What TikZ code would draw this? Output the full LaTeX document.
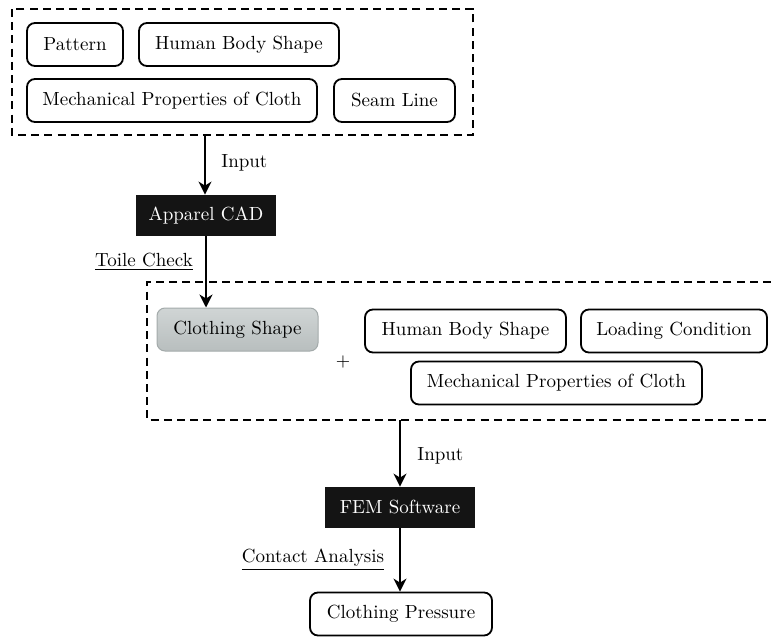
\documentclass[tikz,border=0pt]{standalone}
\usetikzlibrary{arrows.meta}
\definecolor{csTop}{HTML}{D0D5D5}
\definecolor{csBot}{HTML}{B8BEBE}
\definecolor{csEdge}{HTML}{A3AAAA}
\begin{document}
\begin{tikzpicture}[x=0.5pt,y=-0.5pt,
  every node/.style={font=\fontsize{9.5}{12}\selectfont, inner sep=0pt},
  rbox/.style={draw, rounded corners=4pt, line width=0.9pt, minimum height=21.5pt},
  blackbox/.style={fill=black!92, text=white, minimum height=20.5pt},
  grayboxst/.style={draw=csEdge, rounded corners=4pt, line width=0.5pt, minimum height=21.5pt, top color=csTop, bottom color=csBot},
  dashbox/.style={line width=0.9pt, dash pattern=on 4pt off 2.6pt},
  flow/.style={line width=0.9pt, -{Stealth[length=6.5pt,width=6.5pt,inset=2pt]}},
  lbl/.style={font=\fontsize{9.5}{12}\selectfont}
]
\useasboundingbox (0,0) rectangle (771,637);

% top group
\node[rbox, minimum width=48pt] (pat) at (75,44.5) {Pattern};
\node[rbox, minimum width=100pt] (hbs1) at (239,44.5) {Human Body Shape};
\node[rbox, minimum width=145pt] (mech1) at (172,100.5) {Mechanical Properties of Cloth};
\node[rbox, minimum width=60.5pt] (seam) at (394.5,100.5) {Seam Line};
\draw[dashbox] (12,9) rectangle (473,135);
\coordinate (g1b) at (205,135);

% apparel CAD
\node[blackbox, minimum width=70pt] (cad) at (206,215.5) {Apparel CAD};
\node[lbl, anchor=west] (in1) at (221,163) {Input};
\draw[flow] (g1b) -- (g1b |- cad.north);

% second group
\node[grayboxst, minimum width=80.5pt] (cs) at (237.5,329.5) {Clothing Shape};
\node[lbl] (plus) at (343,362) {$+$};
\node[rbox, minimum width=100.5pt] (hbs2) at (465.5,331) {Human Body Shape};
\node[rbox, minimum width=93pt] (load) at (674,331) {Loading Condition};
\node[rbox, minimum width=145.5pt] (mech2) at (556.5,383) {Mechanical Properties of Cloth};
\draw[dashbox] (771,282) -- (147,282) -- (147,420) -- (771,420);
\node[lbl] (toile) at (144,262) {\underline{Toile Check}};
\draw[flow] (cad.south) -- (cad.south |- cs.north);

% FEM
\coordinate (g2b) at (400,420);
\node[blackbox, minimum width=75pt] (fem) at (400,507.5) {FEM Software};
\node[lbl, anchor=west] (in2) at (417,456) {Input};
\draw[flow] (g2b) -- (fem.north);

% result
\node[rbox, minimum width=91pt] (cp) at (401,614) {Clothing Pressure};
\node[lbl] (contact) at (313,560) {\underline{Contact Analysis}};
\draw[flow] (fem.south) -- (fem.south |- cp.north);
\end{tikzpicture}
\end{document}
